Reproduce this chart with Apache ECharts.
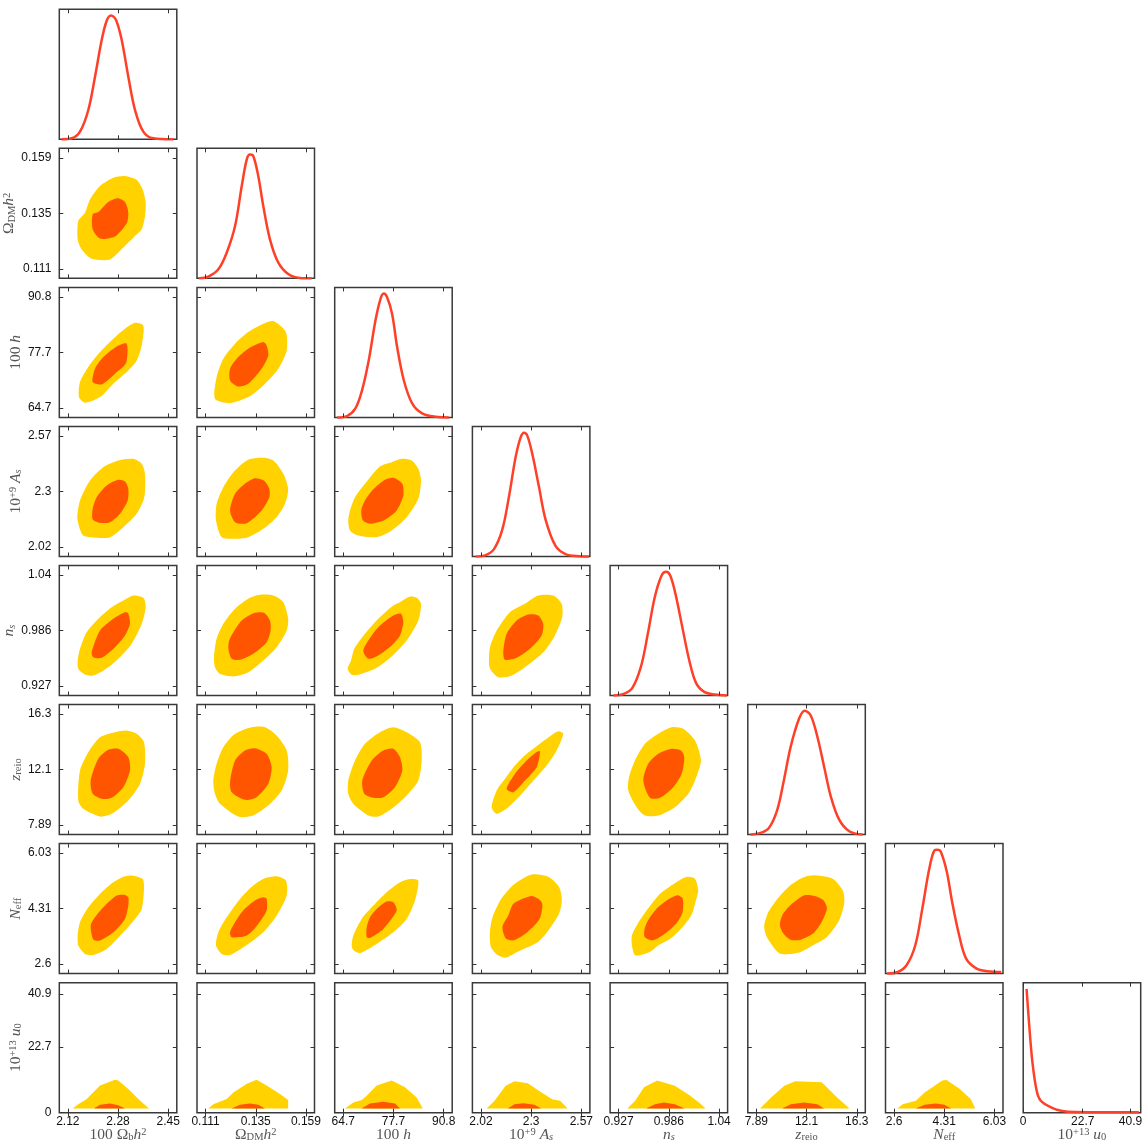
<!DOCTYPE html>
<html><head><meta charset="utf-8">
<script src="https://cdn.jsdelivr.net/npm/echarts@6/dist/echarts.min.js"></script>
<style>html,body{margin:0;padding:0;background:#fff}#c{width:1146px;height:1145px}</style>
</head><body><div id="c"></div>
<script>
// ---------- parameters / axes ----------
const paramLabels = [
  '{n|100 Ω}{sb|b}{i|h}{sp|2}',
  '{n|Ω}{sb|DM}{i|h}{sp|2}',
  '{n|100 }{i|h}',
  '{n|10}{sp|+9}{n| }{i|A}{sbi|s}',
  '{i|n}{sbi|s}',
  '{i|z}{sb|reio}',
  '{i|N}{sb|eff}',
  '{n|10}{sp|+13}{n| }{i|u}{sb|0}'
];
const axisMin = [2.092, 0.1069, 62.48, 1.973, 0.917, 7.175, 2.308, 0];
const axisMax = [2.478, 0.1631, 93.02, 2.617, 1.055, 17.015, 6.322, 44.8];
const tickValues = [
  [2.12, 2.285, 2.45], [0.111, 0.135, 0.159], [64.7, 77.75, 90.8], [2.02, 2.295, 2.57],
  [0.927, 0.986, 1.045], [7.89, 12.1, 16.3], [2.6, 4.315, 6.03], [0, 22.7, 40.9]
];
const tickLabels = [
  ['2.12', '2.28', '2.45'], ['0.111', '0.135', '0.159'], ['64.7', '77.7', '90.8'], ['2.02', '2.3', '2.57'],
  ['0.927', '0.986', '1.04'], ['7.89', '12.1', '16.3'], ['2.6', '4.31', '6.03'], ['0', '22.7', '40.9']
];

// ---------- 1D marginal posteriors ----------
const post0x = [2.0999,2.1327,2.16,2.1873,2.2093,2.2313,2.2477,2.2618,2.2783,2.297,2.3187,2.3407,2.368,2.4008,2.4665];
const post0y = [0,0.008,0.062,0.237,0.506,0.802,0.958,1,0.964,0.802,0.506,0.237,0.062,0.008,0];
const post1x = [0.1079,0.1123,0.1171,0.1211,0.1251,0.1283,0.1307,0.1322,0.1338,0.1362,0.1386,0.1418,0.1458,0.1507,0.1561,0.1617];
const post1y = [0,0.0135,0.0727,0.2073,0.4227,0.7458,0.9612,1,0.988,0.8265,0.5842,0.315,0.1265,0.0323,0.003,0];
const post2x = [63.09,65.69,67.86,69.60,71.33,73.07,74.37,75.23,76.10,77.40,78.71,80.44,82.61,85.21,88.68,92.15];
const post2y = [0,0.011,0.072,0.22,0.461,0.782,0.956,1,0.97,0.836,0.568,0.30,0.113,0.032,0.005,0];
const post3x = [1.9912,2.0459,2.0915,2.1371,2.1735,2.21,2.2373,2.2556,2.2738,2.3011,2.3376,2.374,2.4287,2.4834,2.5563,2.611];
const post3y = [0,0.011,0.059,0.218,0.484,0.803,0.962,1,0.976,0.829,0.564,0.298,0.085,0.019,0.002,0];
const post4x = [0.921,0.9331,0.9432,0.9533,0.9614,0.9695,0.9775,0.9828,0.9876,0.9937,1.0017,1.0098,1.0179,1.028,1.0401,1.0542];
const post4y = [0,0.013,0.062,0.235,0.502,0.796,0.970,1,0.970,0.823,0.556,0.289,0.102,0.027,0.008,0];
const post5x = [7.399,8.241,8.941,9.642,10.203,10.764,11.464,11.941,12.445,13.006,13.567,14.128,14.828,15.669,16.791];
const post5y = [0,0.013,0.053,0.200,0.441,0.708,0.935,1,0.962,0.788,0.548,0.307,0.120,0.027,0];
const post6x = [2.368,2.727,3.027,3.326,3.566,3.805,3.985,4.081,4.201,4.404,4.584,4.824,5.063,5.422,5.782,6.261];
const post6y = [0,0.013,0.067,0.229,0.525,0.848,0.996,1,0.983,0.821,0.579,0.310,0.121,0.040,0.019,0.013];
const post7x = [1.29,2.19,3.48,5.16,6.71,10.58,14.45,19.6,32.5,44.1];
const post7y = [1.0,0.734,0.415,0.175,0.096,0.043,0.016,0.005,0.003,0.003];

// ---------- 2D credible regions (95% outer, 68% inner), [x, y] vertices ----------
const out_1_0 = [[2.1656,.1194],[2.1984,.1154],[2.2586,.1151],[2.3022,.1202],[2.3407,.1252],[2.3627,.1281],[2.3735,.1338],[2.3758,.1396],[2.366,.1453],[2.3463,.1494],[2.3078,.1511],[2.2694,.1504],[2.2257,.1468],[2.1929,.141],[2.1764,.1353],[2.1544,.1317],[2.1524,.1237]];
const in_1_0 = [[2.2017,.1346],[2.2017,.1281],[2.2257,.1241],[2.275,.125],[2.3134,.1307],[2.3187,.1353],[2.3078,.1399],[2.2826,.1415],[2.2497,.1396],[2.2214,.1357]];

const out_2_0 = [[2.1764,65.93],[2.2257,67.25],[2.2694,70.40],[2.3187,73.52],[2.3463,75.87],[2.3627,79.39],[2.368,84.09],[2.3407,84.72],[2.3078,83.32],[2.2694,80.97],[2.2257,77.82],[2.1873,74.30],[2.16,70.77],[2.1567,67.25]];
const in_2_0 = [[2.2017,70.77],[2.2313,70.23],[2.275,72.75],[2.3111,75.24],[2.3134,79.79],[2.2806,79.16],[2.2365,76.64],[2.2093,73.92]];
const out_2_1 = [[.1155,66.87],[.1227,65.84],[.1314,67.25],[.1386,70.00],[.1458,73.92],[.1498,78.22],[.1494,82.52],[.1434,85.10],[.1386,84.49],[.1314,82.52],[.1251,79.79],[.1195,76.27],[.1163,71.95]];
const in_2_1 = [[.1227,71.17],[.1266,69.76],[.1314,70.40],[.1378,73.92],[.1410,77.04],[.1402,79.39],[.1386,80.17],[.1314,78.62],[.1266,76.64],[.1227,73.92]];

const out_3_0 = [[2.1708,2.077],[2.2149,2.0656],[2.2586,2.0685],[2.3022,2.118],[2.3463,2.1844],[2.3712,2.2665],[2.3735,2.3824],[2.3627,2.4319],[2.3351,2.4566],[2.2858,2.4482],[2.2365,2.415],[2.1929,2.3492],[2.16,2.2502],[2.1511,2.1675],[2.1577,2.118]];
const in_3_0 = [[2.2017,2.1562],[2.2257,2.1398],[2.2586,2.1428],[2.2914,2.1844],[2.3167,2.2502],[2.3187,2.3081],[2.3078,2.3443],[2.2858,2.3527],[2.2477,2.3245],[2.2149,2.2665],[2.2017,2.2091]];
const out_3_1 = [[.1187,2.0685],[.1243,2.0606],[.1314,2.0685],[.1386,2.1101],[.145,2.1675],[.149,2.2339],[.1505,2.3057],[.1482,2.3824],[.1434,2.4482],[.1386,2.4616],[.1314,2.4517],[.1243,2.3903],[.1195,2.316],[.1163,2.2339],[.116,2.1512]];
const in_3_1 = [[.1227,2.2007],[.1251,2.1428],[.1307,2.1378],[.1378,2.2007],[.1415,2.2665],[.1415,2.3081],[.1389,2.3492],[.1346,2.3606],[.1298,2.3329],[.1251,2.2834]];
const out_3_2 = [[66.01,2.1512],[66.46,2.1017],[68.61,2.077],[73.40,2.0685],[77.29,2.1017],[81.19,2.1675],[84.21,2.2586],[84.91,2.3492],[84.21,2.4071],[82.49,2.4482],[79.89,2.4566],[77.29,2.4398],[74.25,2.4187],[70.35,2.3329],[67.76,2.2665],[66.46,2.2007]];
const in_3_2 = [[69.39,2.2007],[69.84,2.1512],[71.99,2.1349],[75.55,2.1547],[78.59,2.2007],[80.31,2.275],[80.05,2.3329],[77.71,2.3626],[75.55,2.3527],[72.51,2.3057],[70.35,2.2502]];

const out_4_0 = [[2.1544,.9454],[2.1764,.9393],[2.2037,.9382],[2.253,.9471],[2.2914,.9577],[2.3298,.9719],[2.3627,.9931],[2.3758,1.0108],[2.368,1.0208],[2.3351,1.0232],[2.3022,1.0179],[2.2641,1.0108],[2.2201,.9985],[2.182,.9842],[2.16,.9666],[2.1524,.9542]];
const in_4_0 = [[2.1984,.963],[2.2037,.9577],[2.2313,.957],[2.275,.9683],[2.3078,.9807],[2.3242,.9931],[2.3187,1.0038],[2.3078,1.0055],[2.2694,.9985],[2.2257,.986]];
const out_4_1 = [[.1155,.9471],[.1179,.94],[.1243,.9372],[.1314,.9417],[.1386,.9542],[.145,.9683],[.1498,.986],[.1505,.9985],[.1482,1.0161],[.1434,1.0232],[.137,1.0239],[.1314,1.0197],[.1251,1.0091],[.1195,.9931],[.1163,.9772],[.115,.9577]];
const in_4_1 = [[.1219,.9666],[.1235,.956],[.1275,.9549],[.1338,.9613],[.1402,.9736],[.1421,.986],[.1418,.9967],[.1389,1.0048],[.1346,1.0048],[.1283,.9967],[.1243,.9842],[.1223,.9754]];
const out_4_2 = [[65.86,.9454],[66.90,.939],[68.61,.939],[73.40,.9464],[77.29,.9584],[81.19,.9754],[84.21,.9967],[84.91,1.0144],[83.79,1.0208],[82.05,1.0221],[79.45,1.0161],[77.71,1.0126],[73.81,.9985],[70.35,.9825],[67.57,.9666],[66.72,.9542]];
const in_4_2 = [[69.91,.9648],[71.21,.956],[73.81,.9595],[77.29,.9701],[79.45,.9807],[80.31,.9948],[79.71,1.0038],[77.71,1.002],[74.25,.9913],[72.10,.9807]];
const out_4_3 = [[2.0694,.9454],[2.1149,.9364],[2.1882,.9382],[2.2978,.9524],[2.3706,.9648],[2.4254,.9807],[2.4654,1.0002],[2.4621,1.0144],[2.4161,1.0232],[2.334,1.0232],[2.2611,1.0144],[2.1789,1.0055],[2.1061,.986],[2.0694,.9683],[2.0639,.9542]];
const in_4_3 = [[2.1422,.963],[2.1516,.9549],[2.2156,.957],[2.2978,.9683],[2.3526,.9807],[2.3613,.9931],[2.334,1.002],[2.2792,1.003],[2.2156,.9967],[2.1609,.9825]];

const out_5_0 = [[2.1544,9.749],[2.1708,9.120],[2.2257,8.538],[2.2641,8.742],[2.3187,9.749],[2.3571,11.013],[2.3735,12.527],[2.3702,14.162],[2.3463,14.798],[2.3134,15.048],[2.275,14.919],[2.2257,14.541],[2.1873,13.405],[2.16,12.02]];
const in_5_0 = [[2.1951,11.263],[2.2017,10.256],[2.2313,9.877],[2.2641,9.953],[2.3022,10.756],[2.3242,12.02],[2.3187,13.027],[2.2858,13.662],[2.253,13.587],[2.2201,12.905]];
const out_5_1 = [[.1155,10.256],[.1179,9.499],[.1266,8.538],[.1338,8.613],[.1418,9.499],[.1474,10.506],[.1505,12.02],[.1498,13.534],[.145,14.669],[.1394,15.298],[.133,15.298],[.1251,14.798],[.1195,13.784],[.1163,12.527],[.1147,11.263]];
const in_5_1 = [[.1227,11.134],[.1235,10.377],[.1298,9.802],[.1354,10.0],[.141,11.013],[.1426,12.27],[.1402,13.284],[.1346,13.708],[.1298,13.534],[.1251,12.777]];
const out_5_2 = [[66.01,10.256],[67.31,9.499],[71.21,8.613],[73.81,8.538],[77.29,9.120],[81.19,10.127],[84.21,11.263],[85.09,12.777],[84.65,14.162],[81.19,14.919],[77.71,15.298],[74.25,14.919],[70.35,14.041],[67.76,12.777],[66.01,11.263]];
const in_5_2 = [[69.65,11.263],[70.17,10.256],[72.51,9.953],[75.11,10.0],[78.15,10.756],[80.05,12.02],[79.45,13.027],[77.71,13.662],[75.11,13.534],[72.10,12.777]];
const out_5_3 = [[2.0787,9.242],[2.1061,8.742],[2.1696,9.242],[2.243,10.256],[2.3159,11.391],[2.3799,12.398],[2.4347,13.534],[2.4709,14.798],[2.4435,14.995],[2.3887,14.518],[2.3252,13.859],[2.2704,13.284],[2.2063,12.398],[2.1516,11.391],[2.1061,10.506]];
const in_5_3 = [[2.1609,10.634],[2.197,10.377],[2.2611,11.263],[2.3252,12.27],[2.3432,13.481],[2.3159,13.329],[2.2611,12.648],[2.2063,11.77]];
const out_5_4 = [[.9384,10.506],[.9482,9.242],[.958,8.613],[.9736,8.613],[.9932,9.242],[1.0088,10.256],[1.0167,11.263],[1.0237,12.777],[1.0167,14.291],[1.0029,15.176],[.9893,15.298],[.9736,14.798],[.958,14.041],[.9462,12.777],[.9392,11.513]];
const in_5_4 = [[.956,11.263],[.9638,9.953],[.9756,9.953],[.9912,10.756],[1.0011,11.77],[1.0041,13.027],[1.0002,13.534],[.9893,13.662],[.9736,13.284],[.9618,12.527]];

const out_6_0 = [[2.1544,3.172],[2.1764,2.916],[2.2037,2.885],[2.2477,3.070],[2.3022,3.583],[2.3407,3.997],[2.3627,4.305],[2.3702,4.923],[2.366,5.231],[2.3351,5.333],[2.3078,5.312],[2.2694,5.126],[2.2257,4.768],[2.1873,4.355],[2.16,3.892],[2.1524,3.481]];
const in_6_0 = [[2.1951,3.790],[2.2037,3.358],[2.2257,3.327],[2.2694,3.583],[2.3078,3.997],[2.3187,4.407],[2.3187,4.663],[2.3078,4.737],[2.2806,4.716],[2.2421,4.407],[2.2093,4.046]];
const out_6_1 = [[.116,3.172],[.1187,2.916],[.1227,2.885],[.1314,3.225],[.1386,3.583],[.145,4.098],[.1498,4.716],[.1494,5.179],[.145,5.312],[.1394,5.250],[.1338,5.025],[.1275,4.614],[.1211,4.046],[.1171,3.583]];
const in_6_1 = [[.1227,3.583],[.1235,3.429],[.1307,3.481],[.1362,3.842],[.1402,4.253],[.1402,4.614],[.1386,4.663],[.1346,4.562],[.129,4.253],[.1251,3.892]];
const out_6_2 = [[66.90,3.172],[67.31,3.040],[69.06,2.947],[73.40,3.225],[77.71,3.583],[81.19,3.997],[83.35,4.562],[84.21,5.179],[82.05,5.231],[79.45,5.126],[76.0,4.818],[72.51,4.407],[69.50,3.997],[67.31,3.481]];
const in_6_2 = [[70.80,3.737],[70.80,3.429],[71.65,3.410],[75.11,3.688],[78.59,4.253],[77.71,4.509],[76.0,4.531],[73.40,4.305],[71.65,4.046]];
const out_6_3 = [[2.0745,3.131],[2.1128,2.874],[2.1568,2.802],[2.2182,2.977],[2.333,3.286],[2.3905,3.646],[2.448,4.160],[2.4633,4.572],[2.448,4.983],[2.3905,5.292],[2.2948,5.364],[2.199,5.055],[2.132,4.623],[2.084,4.057],[2.0688,3.594]];
const in_6_3 = [[2.1377,3.749],[2.1568,3.388],[2.199,3.337],[2.2756,3.594],[2.3426,4.006],[2.356,4.469],[2.333,4.623],[2.2948,4.705],[2.199,4.469],[2.1702,4.109]];
const out_6_4 = [[.9426,3.182],[.9466,2.874],[.9637,2.977],[.9738,3.182],[.988,3.388],[1.0022,3.749],[1.0124,4.109],[1.0173,4.520],[1.0205,4.880],[1.0164,5.241],[1.0063,5.292],[.9921,5.086],[.9759,4.778],[.9616,4.315],[.9495,3.851],[.9426,3.491]];
const in_6_4 = [[.9576,3.697],[.9576,3.440],[.9677,3.337],[.984,3.594],[.9961,3.903],[1.0022,4.212],[1.0022,4.623],[.9961,4.726],[.984,4.572],[.9718,4.315],[.9616,3.954]];
const out_6_5 = [[8.547,3.749],[8.839,3.388],[9.861,2.925],[11.467,2.956],[12.635,3.182],[13.803,3.440],[14.825,3.954],[15.263,4.520],[15.117,4.880],[14.241,5.241],[12.781,5.343],[11.905,5.292],[10.737,5.035],[9.569,4.572],[8.839,4.160]];
const in_6_5 = [[9.861,3.800],[10.153,3.543],[10.737,3.357],[11.613,3.357],[12.635,3.543],[13.365,3.903],[13.803,4.315],[13.511,4.572],[12.781,4.705],[11.905,4.726],[10.737,4.417],[10.066,4.109]];

const out_7_0 = [[2.136,1.40],[2.1544,2.93],[2.182,4.68],[2.2257,9.32],[2.275,11.31],[2.2858,11.07],[2.3187,8.17],[2.3515,4.68],[2.3867,1.40]];
const in_7_0 = [[2.206,1.40],[2.2257,2.69],[2.2586,3.14],[2.2858,2.58],[2.3078,1.40]];
const out_7_1 = [[.1123,1.40],[.1147,2.93],[.1211,4.68],[.1243,6.98],[.1307,9.92],[.1354,11.31],[.1402,9.32],[.1466,6.43],[.1505,4.33],[.1505,1.40]];
const in_7_1 = [[.1235,1.40],[.1275,2.69],[.1322,3.14],[.1362,2.69],[.1394,1.40]];
const out_7_2 = [[65.16,1.40],[67.31,3.49],[69.50,4.33],[70.80,5.83],[73.40,9.32],[77.29,11.07],[80.75,8.73],[83.79,5.24],[85.35,1.40]];
const in_7_2 = [[69.50,1.40],[71.65,3.14],[75.11,3.74],[78.15,3.14],[79.45,1.40]];
const out_7_3 = [[2.0507,1.40],[2.0944,4.07],[2.1551,9.31],[2.2037,10.83],[2.2765,10.13],[2.3372,7.57],[2.410,4.66],[2.4538,4.07],[2.495,1.40]];
const in_7_3 = [[2.1673,1.40],[2.2037,2.91],[2.2523,3.26],[2.313,2.68],[2.3494,1.40]];
const out_7_4 = [[.9372,1.40],[.9465,4.07],[.9568,8.73],[.9723,11.06],[.993,9.31],[1.0111,5.82],[1.0214,3.49],[1.0292,1.40]];
const in_7_4 = [[.9594,1.40],[.9697,2.91],[.9801,3.49],[.993,2.91],[1.0044,1.40]];
const out_7_5 = [[8.207,1.40],[9.128,5.24],[10.234,9.31],[11.155,10.83],[13.366,10.48],[14.656,5.24],[15.689,1.40]];
const in_7_5 = [[10.049,1.40],[10.786,2.91],[11.892,3.49],[12.998,2.91],[13.55,1.40]];
const out_7_6 = [[2.714,1.40],[2.894,2.91],[3.345,4.07],[3.646,6.98],[4.247,11.06],[4.397,11.29],[4.848,8.15],[5.224,4.66],[5.374,1.40]];
const in_7_6 = [[3.345,1.40],[3.646,2.68],[4.022,3.14],[4.322,2.68],[4.547,1.40]];

// ---------- assembly ----------
const posteriors = [[post0x,post0y],[post1x,post1y],[post2x,post2y],[post3x,post3y],[post4x,post4y],[post5x,post5y],[post6x,post6y],[post7x,post7y]];
const regions = {
  '1_0':[out_1_0,in_1_0],
  '2_0':[out_2_0,in_2_0],'2_1':[out_2_1,in_2_1],
  '3_0':[out_3_0,in_3_0],'3_1':[out_3_1,in_3_1],'3_2':[out_3_2,in_3_2],
  '4_0':[out_4_0,in_4_0],'4_1':[out_4_1,in_4_1],'4_2':[out_4_2,in_4_2],'4_3':[out_4_3,in_4_3],
  '5_0':[out_5_0,in_5_0],'5_1':[out_5_1,in_5_1],'5_2':[out_5_2,in_5_2],'5_3':[out_5_3,in_5_3],'5_4':[out_5_4,in_5_4],
  '6_0':[out_6_0,in_6_0],'6_1':[out_6_1,in_6_1],'6_2':[out_6_2,in_6_2],'6_3':[out_6_3,in_6_3],'6_4':[out_6_4,in_6_4],'6_5':[out_6_5,in_6_5],
  '7_0':[out_7_0,in_7_0],'7_1':[out_7_1,in_7_1],'7_2':[out_7_2,in_7_2],'7_3':[out_7_3,in_7_3],'7_4':[out_7_4,in_7_4],'7_5':[out_7_5,in_7_5],'7_6':[out_7_6,in_7_6]
};

const N = 8;
const PANEL_W = 117.5, PANEL_H = 130, X0 = 59.3, Y0 = 9.3, DX = 137.7, DY = 139.05;
const COL_OUT = '#FFD200', COL_IN = '#FF5500', COL_LINE = '#FF4028';
const SERIF = '"Liberation Serif", "DejaVu Serif", serif';
const SANS = '"Liberation Sans", Arial, Helvetica, sans-serif';
const NAME_COL = '#555';
const nameRich = {
  n: {fontFamily: SERIF, fontSize: 15.5, lineHeight: 16, color: NAME_COL, verticalAlign: 'middle'},
  i: {fontFamily: SERIF, fontSize: 15.5, lineHeight: 16, color: NAME_COL, fontStyle: 'italic', verticalAlign: 'middle'},
  sb: {fontFamily: SERIF, fontSize: 10.5, lineHeight: 10, color: NAME_COL, verticalAlign: 'bottom'},
  sbi: {fontFamily: SERIF, fontSize: 10.5, lineHeight: 10, color: NAME_COL, fontStyle: 'italic', verticalAlign: 'bottom'},
  sp: {fontFamily: SERIF, fontSize: 10.5, lineHeight: 10, color: NAME_COL, verticalAlign: 'top'}
};

function labelFor(p, v) {
  const vals = tickValues[p];
  for (let k = 0; k < vals.length; k++) if (Math.abs(vals[k] - v) < 1e-9 * Math.max(1, Math.abs(v))) return tickLabels[p][k];
  return '';
}

const grids = [], xAxes = [], yAxes = [], series = [];

function makeAxis(kind, gi, p, position, opts) {
  const isX = kind === 'x';
  const ax = {
    type: 'value', gridIndex: gi, position: position,
    min: p === null ? 0 : axisMin[p], max: p === null ? 1.05 : axisMax[p],
    axisLine: {show: false}, splitLine: {show: false},
    axisTick: {show: opts.ticks, inside: true, length: 4, lineStyle: {color: '#333', width: 1},
      customValues: p === null ? [] : tickValues[p]},
    axisLabel: {show: !!opts.labels, customValues: p === null ? [] : tickValues[p],
      formatter: (v) => labelFor(p, v), margin: isX ? 3 : 8, fontSize: 12, color: '#111', fontFamily: SANS,
      showMinLabel: true, showMaxLabel: true, hideOverlap: false},
    z: 5
  };
  if (opts.name) {
    ax.name = paramLabels[p];
    ax.nameLocation = 'middle';
    ax.nameRotate = isX ? 0 : 90;
    ax.nameTextStyle = {rich: nameRich};
    if (isX) { ax.nameGap = 14; ax.nameMoveOverlap = false; }
    else { ax.nameGap = -1; ax.nameMoveOverlap = true; }
  }
  return ax;
}

for (let r = 0; r < N; r++) {
  for (let c = 0; c <= r; c++) {
    const gi = grids.length;
    grids.push({
      left: X0 + c * DX, top: Y0 + r * DY, width: PANEL_W, height: PANEL_H,
      show: true, borderColor: '#3a3a3a', borderWidth: 1.5, backgroundColor: 'transparent',
      containLabel: false, outerBoundsMode: 'none'
    });
    const bottomRow = r === N - 1;
    const xi = xAxes.length;
    xAxes.push(makeAxis('x', gi, c, 'bottom', {ticks: true, labels: bottomRow, name: bottomRow}));
    xAxes.push(makeAxis('x', gi, c, 'top', {ticks: true}));
    const yi = yAxes.length;
    if (r === c) {
      yAxes.push(makeAxis('y', gi, null, 'left', {ticks: false}));
      const [px, py] = posteriors[c];
      series.push({
        type: 'line', xAxisIndex: xi, yAxisIndex: yi,
        data: px.map((x, k) => [x, py[k]]),
        showSymbol: false, smooth: 0.35, clip: false,
        lineStyle: {color: COL_LINE, width: 2.5}, silent: true, z: 4
      });
    } else {
      yAxes.push(makeAxis('y', gi, r, 'left', {ticks: true, labels: c === 0, name: c === 0}));
      yAxes.push(makeAxis('y', gi, r, 'right', {ticks: true}));
      const [outer, inner] = regions[r + '_' + c];
      const smooth = r === N - 1 ? 0 : 0.25;
      [[outer, COL_OUT], [inner, COL_IN]].forEach(([pts, col], li) => {
        series.push({
          type: 'custom', xAxisIndex: xi, yAxisIndex: yi, data: pts, encode: {x: 0, y: 1},
          clip: true, silent: true, z: 2 + li,
          renderItem: (params, api) => {
            if (params.dataIndex !== 0) return null;
            const points = pts.map(p => api.coord(p));
            return {type: 'polygon', shape: {points: points, smooth: smooth}, style: {fill: col, stroke: null}};
          }
        });
      });
    }
  }
}

const chart = echarts.init(document.getElementById('c'), null, {renderer: 'canvas'});
chart.setOption({
  backgroundColor: '#ffffff',
  animation: false,
  grid: grids, xAxis: xAxes, yAxis: yAxes, series: series
});
</script>
</body></html>
